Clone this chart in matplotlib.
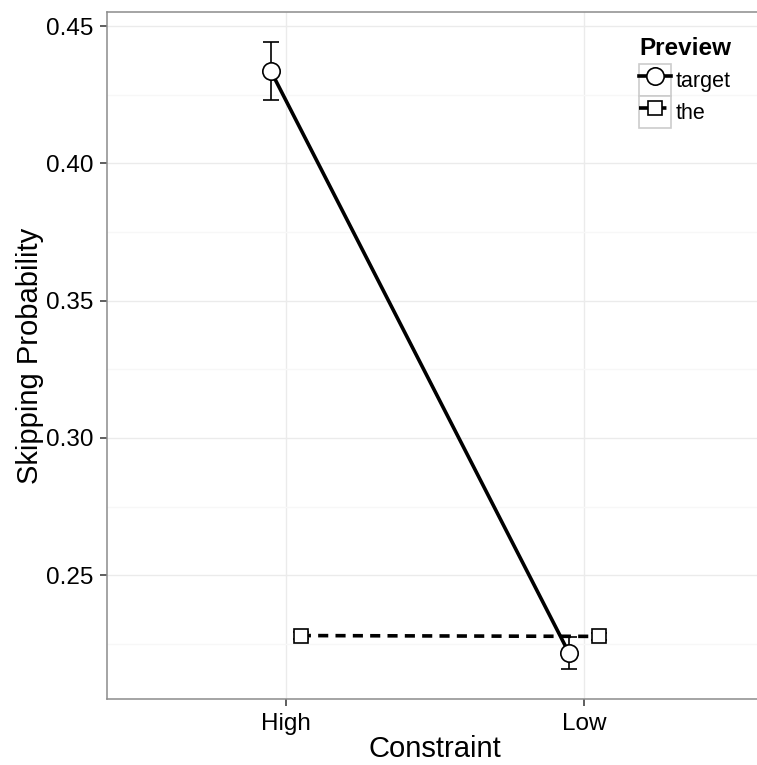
import matplotlib
matplotlib.use("Agg")
import matplotlib.pyplot as plt
from matplotlib.legend_handler import HandlerLine2D
from matplotlib.patches import Rectangle
from matplotlib.ticker import MultipleLocator, FormatStrFormatter

# valores
constraint = ["High", "Low"]
target_mean = [0.4335, 0.2215]
target_err = [0.0105, 0.0058]
the_mean = [0.2280, 0.2277]
the_err = [0.0012, 0.0012]
dodge = 0.05

plt.rcParams["font.family"] = ["Liberation Sans", "DejaVu Sans"]


class BoxedHandler(HandlerLine2D):
    """Clave de leyenda con recuadro gris, estilo ggplot."""

    def create_artists(self, legend, orig_handle, xdescent, ydescent,
                       width, height, fontsize, trans):
        arts = super().create_artists(legend, orig_handle, xdescent, ydescent,
                                      width, height, fontsize, trans)
        box = Rectangle((-xdescent, -ydescent), width, height, fc="white",
                        ec="#cccccc", lw=1.2, transform=trans)
        return [box] + arts


fig = plt.figure(figsize=(7.57, 7.65), dpi=100)
ax = fig.add_axes([107 / 757, 1 - 699 / 765, 656 / 757, 687 / 765])

xs = [1, 2]
x_t = [x - dodge for x in xs]
x_h = [x + dodge for x in xs]

ax.errorbar(x_h, the_mean, yerr=the_err, fmt="none", ecolor="black",
            elinewidth=1.2, capsize=5.5, capthick=1.2, zorder=2)
ax.plot(x_h, the_mean, color="black", lw=2.6, linestyle=(0, (2.8, 2)),
        marker="s", markersize=10, markerfacecolor="white",
        markeredgecolor="black", markeredgewidth=1.2, label="the", zorder=3)
ax.errorbar(x_t, target_mean, yerr=target_err, fmt="none", ecolor="black",
            elinewidth=1.2, capsize=5.5, capthick=1.2, zorder=4)
ax.plot(x_t, target_mean, color="black", lw=2.6, marker="o", markersize=12.5,
        markerfacecolor="white", markeredgecolor="black",
        markeredgewidth=1.2, label="target", zorder=5)

ax.set_xlim(0.4, 2.6)
ax.set_ylim(0.2049, 0.4551)
ax.set_xticks(xs)
ax.set_xticklabels(constraint)
ax.yaxis.set_major_locator(MultipleLocator(0.05))
ax.yaxis.set_minor_locator(MultipleLocator(0.025))
ax.yaxis.set_major_formatter(FormatStrFormatter("%.2f"))

ax.grid(which="major", color="#ebebeb", lw=1.0)
ax.grid(which="minor", axis="y", color="#f7f7f7", lw=1.0)
ax.set_axisbelow(True)
ax.tick_params(which="major", length=5, width=1.1, color="#333333",
               labelsize=17.5, labelcolor="black", pad=5)
ax.tick_params(which="minor", length=0)
for sp in ax.spines.values():
    sp.set_color("#8c8c8c")
    sp.set_linewidth(1.1)
ax.spines["right"].set_visible(False)

ax.set_xlabel("Constraint", fontsize=21, labelpad=0)
ax.set_ylabel("Skipping Probability", fontsize=21, labelpad=1)

h, l = ax.get_legend_handles_labels()
order = [l.index("target"), l.index("the")]
leg = ax.legend([h[i] for i in order], [l[i] for i in order],
                title="Preview", loc="upper left",
                bbox_to_anchor=(639 / 757, 1 - 37 / 765),
                bbox_transform=fig.transFigure, frameon=False,
                fontsize=15.5, title_fontproperties={"weight": "bold", "size": 17.5},
                handlelength=1.49, handleheight=1.91, handletextpad=0.2,
                labelspacing=0, borderpad=0, borderaxespad=0,
                alignment="left",
                handler_map={h[0]: BoxedHandler(), h[1]: BoxedHandler()})
leg._legend_box.sep = 3  # pequeño hueco entre titulo y claves

fig.savefig("out.png", dpi=100)
